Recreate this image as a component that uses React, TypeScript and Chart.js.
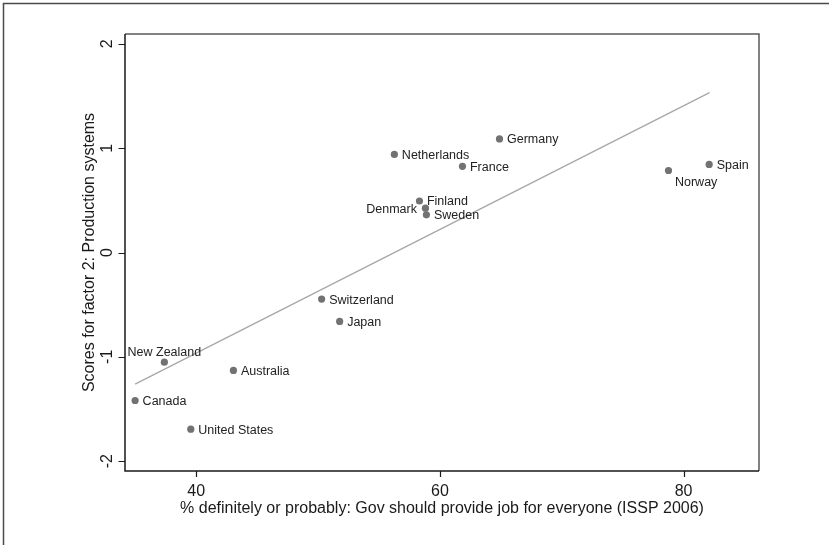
import React, { useEffect, useRef } from "react";
import { Chart, registerables } from "chart.js";

Chart.register(...registerables);

const countries = [
  "Germany", "Netherlands", "France", "Finland", "Denmark", "Sweden", "Spain",
  "Norway", "Switzerland", "Japan", "New Zealand", "Australia", "Canada", "United States",
];
const jobPct = [64.89, 56.26, 61.85, 58.32, 58.81, 58.89, 82.1, 78.76, 50.29, 51.77, 37.38, 43.05, 34.98, 39.55];
const factor2 = [1.089, 0.94, 0.826, 0.494, 0.425, 0.361, 0.844, 0.786, -0.447, -0.661, -1.052, -1.131, -1.419, -1.694];
const fitX = [34.98, 82.13];
const fitY = [-1.263, 1.534];
const xTicks = [40, 60, 80];
const yTicks = [-2, -1, 0, 1, 2];
const xTitle = "% definitely or probably: Gov should provide job for everyone (ISSP 2006)";
const yTitle = "Scores for factor 2: Production systems";

// label placement (style), by country
const labelPlace: Record<string, string> = {
  Denmark: "l",
  "New Zealand": "t",
  Norway: "br",
};

const FONT = "'Liberation Sans', Arial, Helvetica, sans-serif";

const decorPlugin = {
  id: "stataDecor",
  beforeDraw(chart: any) {
    const ctx = chart.ctx;
    ctx.save();
    ctx.fillStyle = "#ffffff";
    ctx.fillRect(0, 0, chart.width, chart.height);
    // outer frame
    ctx.strokeStyle = "#4a4a4a";
    ctx.lineWidth = 1.5;
    ctx.beginPath();
    ctx.moveTo(3.5, chart.height);
    ctx.lineTo(3.5, 3.5);
    ctx.lineTo(chart.width, 3.5);
    ctx.stroke();
    ctx.restore();
  },
  afterDraw(chart: any) {
    const ctx = chart.ctx;
    const ca = chart.chartArea;
    const xs = chart.scales.x;
    const ys = chart.scales.y;
    ctx.save();
    // plot region border (top/right)
    ctx.strokeStyle = "#5a5a5a";
    ctx.lineWidth = 1.5;
    ctx.beginPath();
    ctx.moveTo(ca.left, ca.top);
    ctx.lineTo(ca.right, ca.top);
    ctx.lineTo(ca.right, ca.bottom);
    ctx.stroke();
    // axes
    ctx.strokeStyle = "#1a1a1a";
    ctx.beginPath();
    ctx.moveTo(ca.left, ca.top);
    ctx.lineTo(ca.left, ca.bottom);
    ctx.lineTo(ca.right, ca.bottom);
    ctx.stroke();
    // ticks
    ctx.lineWidth = 1.2;
    ctx.beginPath();
    xTicks.forEach((v) => {
      const px = Math.round(xs.getPixelForValue(v)) + 0.5;
      ctx.moveTo(px, ca.bottom);
      ctx.lineTo(px, ca.bottom + 6);
    });
    yTicks.forEach((v) => {
      const py = Math.round(ys.getPixelForValue(v)) + 0.5;
      ctx.moveTo(ca.left, py);
      ctx.lineTo(ca.left - 6.5, py);
    });
    ctx.stroke();
    // tick labels
    ctx.fillStyle = "#1a1a1a";
    ctx.font = `16px ${FONT}`;
    ctx.textAlign = "center";
    ctx.textBaseline = "alphabetic";
    xTicks.forEach((v) => {
      ctx.fillText(String(v), xs.getPixelForValue(v), 496);
    });
    yTicks.forEach((v) => {
      ctx.save();
      ctx.translate(112, ys.getPixelForValue(v));
      ctx.rotate(-Math.PI / 2);
      ctx.fillText(String(v), 0, 0);
      ctx.restore();
    });
    // axis titles
    ctx.fillText(xTitle, (ca.left + ca.right) / 2, 512.5);
    ctx.save();
    ctx.translate(93.5, (ca.top + ca.bottom) / 2);
    ctx.rotate(-Math.PI / 2);
    ctx.fillText(yTitle, 0, 0);
    ctx.restore();
    // point labels
    const meta = chart.getDatasetMeta(0);
    ctx.font = `12.5px ${FONT}`;
    ctx.fillStyle = "#222222";
    countries.forEach((name, i) => {
      const el = meta.data[i];
      if (!el) return;
      const place = labelPlace[name] || "r";
      if (place === "l") {
        ctx.textAlign = "right";
        ctx.fillText(name, el.x - 8.5, el.y + 4.5);
      } else if (place === "t") {
        ctx.textAlign = "center";
        ctx.fillText(name, el.x, el.y - 6);
      } else if (place === "br") {
        ctx.textAlign = "left";
        ctx.fillText(name, el.x + 6.5, el.y + 15);
      } else {
        ctx.textAlign = "left";
        ctx.fillText(name, el.x + 7.5, el.y + 4.5);
      }
    });
    ctx.restore();
  },
};

export default function App() {
  const ref = useRef<HTMLCanvasElement | null>(null);
  useEffect(() => {
    if (!ref.current) return;
    const chart = new Chart(ref.current, {
      type: "scatter",
      data: {
        datasets: [
          {
            type: "scatter",
            data: jobPct.map((x, i) => ({ x, y: factor2[i] })),
            backgroundColor: "#727272",
            borderColor: "#727272",
            borderWidth: 0,
            pointRadius: 3.6,
            pointHoverRadius: 3.6,
          } as any,
          {
            type: "line",
            data: fitX.map((x, i) => ({ x, y: fitY[i] })),
            borderColor: "#a8a8a8",
            borderWidth: 1.4,
            pointRadius: 0,
            fill: false,
            tension: 0,
          } as any,
        ],
      },
      options: {
        animation: false,
        responsive: false,
        devicePixelRatio: 1,
        layout: { padding: { top: 34, right: 70, left: 0, bottom: 0 } },
        plugins: { legend: { display: false }, tooltip: { enabled: false } },
        events: [],
        scales: {
          x: {
            type: "linear",
            min: 34.15,
            max: 86.19,
            grid: { display: false },
            border: { display: false },
            ticks: { display: false },
            afterBuildTicks: (s: any) => {
              s.ticks = xTicks.map((v) => ({ value: v }));
            },
            afterFit: (s: any) => {
              s.height = 74;
            },
          },
          y: {
            type: "linear",
            min: -2.095,
            max: 2.095,
            grid: { display: false },
            border: { display: false },
            ticks: { display: false },
            afterBuildTicks: (s: any) => {
              s.ticks = yTicks.map((v) => ({ value: v }));
            },
            afterFit: (s: any) => {
              s.width = 125;
            },
          },
        },
      } as any,
      plugins: [decorPlugin],
    });
    return () => chart.destroy();
  }, []);
  return (
    <div style={{ position: "absolute", left: 0, top: 0, width: 829, height: 545 }}>
      <canvas ref={ref} width={829} height={545} style={{ display: "block" }} />
    </div>
  );
}
